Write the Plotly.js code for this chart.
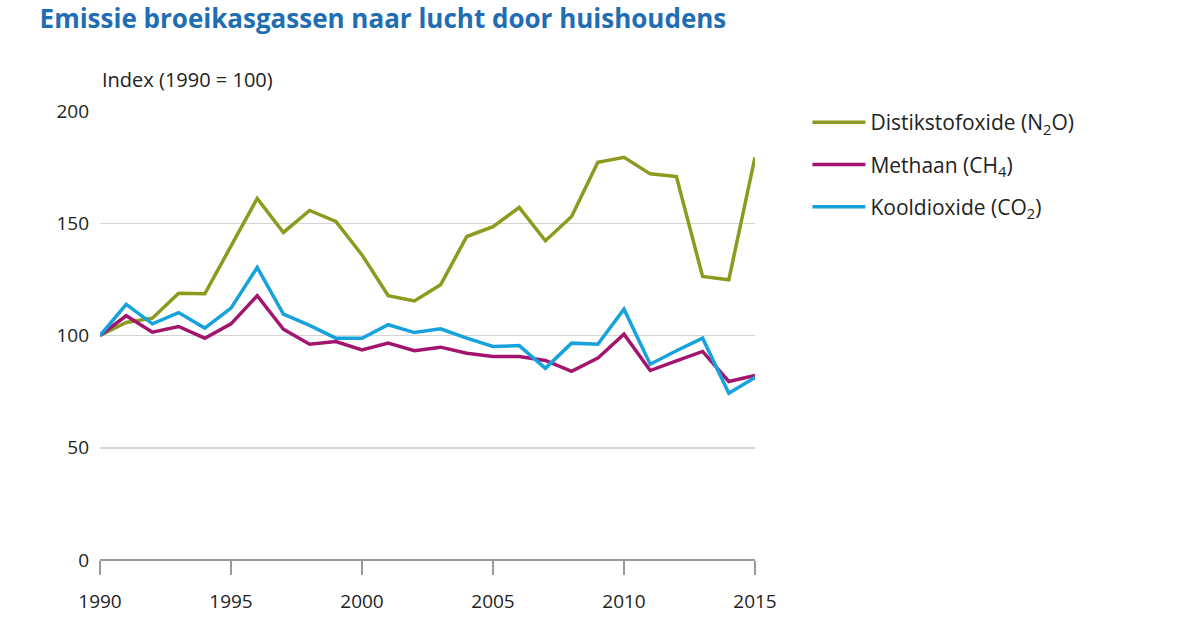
<!DOCTYPE html>
<html>
<head>
<meta charset="utf-8">
<script src="https://cdn.plot.ly/plotly-3.0.1.min.js"></script>
<style>
  body { margin: 0; background: #fff; }
  #chart { width: 1200px; height: 630px; }
</style>
</head>
<body>
<div id="chart"></div>
<script>
// jaren 1990-2015, index 1990 = 100
const years = [1990, 1991, 1992, 1993, 1994, 1995, 1996, 1997, 1998, 1999, 2000, 2001, 2002,
               2003, 2004, 2005, 2006, 2007, 2008, 2009, 2010, 2011, 2012, 2013, 2014, 2015];

const n2o = [100, 105.8, 107.7, 118.8, 118.6, 140, 161.1, 145.9, 155.7, 150.8, 135.9, 117.7, 115.4,
             122.6, 144.1, 148.5, 157.0, 142.2, 153.0, 177.2, 179.4, 172.0, 170.8, 126.3, 124.8, 179.4];

const ch4 = [100, 108.8, 101.5, 104.0, 98.8, 105.2, 117.7, 102.8, 96.1, 97.3, 93.6, 96.6, 93.2,
             94.8, 92.1, 90.6, 90.6, 88.9, 84.0, 89.9, 100.6, 84.4, 88.7, 92.9, 79.5, 82.2];

const co2 = [100, 113.9, 105.2, 110.2, 103.3, 112.2, 130.3, 109.5, 104.5, 98.8, 98.8, 104.8, 101.3,
             103.0, 98.8, 95.1, 95.5, 85.4, 96.6, 96.1, 111.7, 87.2, 93.2, 98.8, 74.3, 81.3];

const seriesNames = ["Distikstofoxide (N<sub>2</sub>O)", "Methaan (CH<sub>4</sub>)", "Kooldioxide (CO<sub>2</sub>)"];
const colors = ["#8c9a1e", "#a3146f", "#16a2dc"];

const yTicks = [0, 50, 100, 150, 200];
const xTicks = [1990, 1995, 2000, 2005, 2010, 2015];

const font = "'Open Sans', 'Noto Sans', sans-serif";

const traces = [n2o, ch4, co2].map((vals, i) => ({
    x: years,
    y: vals,
    type: "scatter",
    mode: "lines",
    name: seriesNames[i],
    legendgroup: "g" + i,
    line: { color: colors[i], width: 3.5 },
    hoverinfo: "skip"
}));

const layout = {
    width: 1200,
    height: 630,
    margin: { l: 100, r: 445, t: 111, b: 70 },
    paper_bgcolor: "#fff",
    plot_bgcolor: "#fff",
    font: { family: font, size: 18, color: "#222" },
    title: {
        text: "<b>Emissie broeikasgassen naar lucht door huishoudens</b>",
        font: { family: font, size: 26, color: "#1f6db3" },
        x: 0.033, xanchor: "left",
        y: 0.984, yanchor: "top"
    },
    xaxis: {
        range: [1990, 2015],
        tickvals: xTicks,
        ticks: "outside",
        ticklen: 14,
        tickwidth: 1.5,
        tickcolor: "#9a9a9a",
        ticklabelstandoff: 10,
        showgrid: false,
        showline: false,
        zeroline: false,
        tickfont: { size: 19, color: "#222" }
    },
    yaxis: {
        range: [0, 200],
        tickvals: yTicks,
        showgrid: true,
        gridcolor: "#d4d4d4",
        gridwidth: 1.5,
        zeroline: true,
        zerolinecolor: "#9a9a9a",
        zerolinewidth: 2,
        ticks: "",
        ticklabelstandoff: 10,
        tickfont: { size: 19, color: "#222" }
    },
    legend: {
        x: 1.08, xanchor: "left",
        y: 1.02, yanchor: "top",
        font: { family: font, size: 21, color: "#222" },
        tracegroupgap: 12,
        itemwidth: 53
    },
    annotations: [{
        text: "Index (1990 = 100)",
        xref: "paper", yref: "paper",
        x: 0, y: 1.035,
        xanchor: "left", yanchor: "bottom",
        showarrow: false,
        font: { family: font, size: 20, color: "#222" }
    }]
};

Plotly.newPlot("chart", traces, layout, { displayModeBar: false, staticPlot: true });
</script>
</body>
</html>
